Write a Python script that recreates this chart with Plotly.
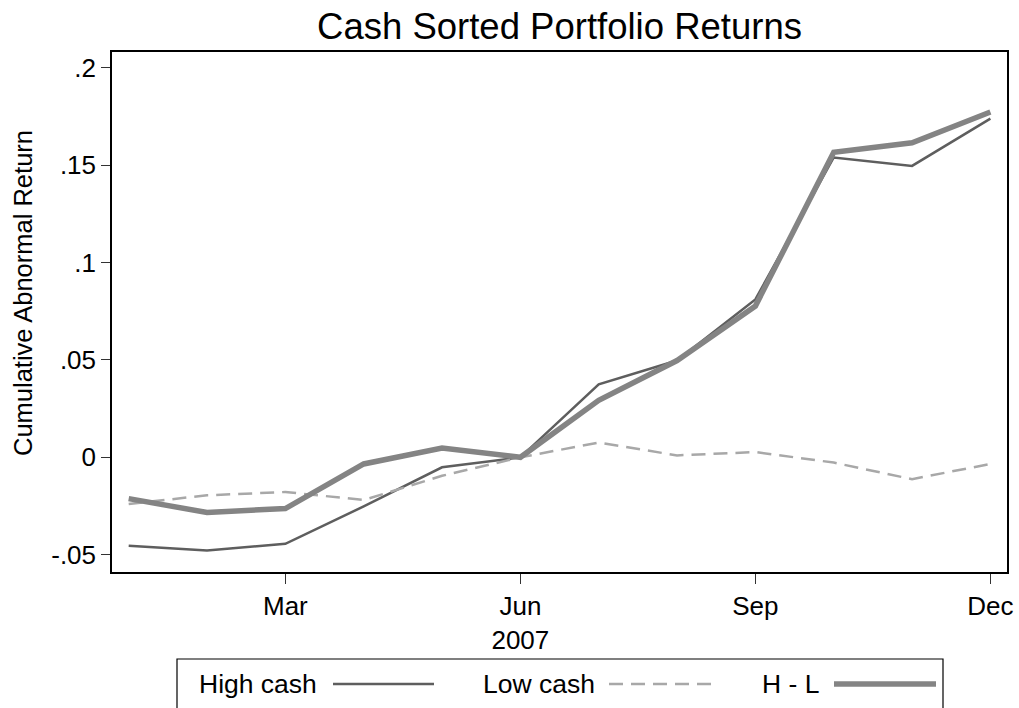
import plotly.graph_objects as go

# ── Data (cumulative abnormal returns, 2007) ─────────────────────────────────
months = [1, 2, 3, 4, 5, 6, 7, 8, 9, 10, 11, 12]
high_cash = [-0.0454, -0.0478, -0.0444, -0.0252, -0.0051, 0.0,
             0.0375, 0.0497, 0.0811, 0.1540, 0.1497, 0.1740]
low_cash = [-0.0240, -0.0195, -0.0178, -0.0219, -0.0095, 0.0,
            0.0076, 0.0010, 0.0027, -0.0027, -0.0112, -0.0034]
h_minus_l = [-0.0212, -0.0283, -0.0263, -0.0034, 0.0048, 0.0,
             0.0293, 0.0497, 0.0777, 0.1567, 0.1616, 0.1774]

x_tickvals = [3, 6, 9, 12]
x_ticktext = ["Mar", "Jun<br>2007", "Sep", "Dec"]
y_tickvals = [-0.05, 0, 0.05, 0.1, 0.15, 0.2]
y_ticktext = ["-.05", "0", ".05", ".1", ".15", ".2"]

FONT = "Liberation Sans, Arial, sans-serif"
COLORS = {"high": "#5e5e5e", "low": "#a8a8a8", "hl": "#848484"}

W, H = 1019, 708
PLOT_L, PLOT_R, PLOT_T, PLOT_B = 112, 1007, 52, 572   # plot box in pixels

fig = go.Figure()
fig.add_trace(go.Scatter(x=months, y=high_cash, mode="lines", name="High cash",
                         line=dict(color=COLORS["high"], width=2.5)))
fig.add_trace(go.Scatter(x=months, y=low_cash, mode="lines", name="Low cash",
                         line=dict(color=COLORS["low"], width=2.5, dash="14px,8px")))
fig.add_trace(go.Scatter(x=months, y=h_minus_l, mode="lines", name="H - L",
                         line=dict(color=COLORS["hl"], width=5.5)))

# ── Stata-style legend (label before key), drawn in paper coords ─────────────
def px_x(p):
    return (p - PLOT_L) / float(PLOT_R - PLOT_L)


def px_y(p):
    return (PLOT_B - p) / float(PLOT_B - PLOT_T)


shapes = [dict(type="rect", xref="paper", yref="paper",
               x0=px_x(177), x1=px_x(943), y0=px_y(730), y1=px_y(659),
               line=dict(color="black", width=1.2), fillcolor="white", layer="below")]
annotations = [dict(text="Cumulative Abnormal Return", xref="paper", yref="paper",
                    x=px_x(23), y=px_y(293), xanchor="center", yanchor="middle",
                    textangle=-90, showarrow=False,
                    font=dict(family=FONT, size=25.5, color="black"))]
legend_items = [
    ("High cash", 319, 333, 434, dict(color=COLORS["high"], width=2.5)),
    ("Low cash", 597, 609, 712, dict(color=COLORS["low"], width=2.5, dash="14px,8px")),
    ("H - L", 821, 834, 936, dict(color=COLORS["hl"], width=5.5)),
]
ly = px_y(684)
for label, text_right, k0, k1, ln in legend_items:
    annotations.append(dict(text=label, xref="paper", yref="paper", x=px_x(text_right), y=ly,
                            xanchor="right", yanchor="middle", showarrow=False,
                            font=dict(family=FONT, size=26.5, color="black")))
    shapes.append(dict(type="line", xref="paper", yref="paper",
                       x0=px_x(k0), x1=px_x(k1), y0=ly, y1=ly, line=ln))

fig.update_layout(
    width=W, height=H,
    margin=dict(l=PLOT_L, r=W - PLOT_R, t=PLOT_T, b=H - PLOT_B, autoexpand=False),
    paper_bgcolor="white", plot_bgcolor="white",
    showlegend=False,
    font=dict(family=FONT, color="black"),
    title=dict(text="Cash Sorted Portfolio Returns", x=559.5 / W, xanchor="center",
               y=1 - 26 / H, yanchor="middle",
               font=dict(family=FONT, size=36.5, color="black")),
    shapes=shapes,
    annotations=annotations,
)
fig.update_xaxes(range=[0.787, 12.212], tickvals=x_tickvals, ticktext=x_ticktext,
                 ticks="outside", ticklen=10, tickwidth=1.2, tickcolor="#333",
                 showline=True, linecolor="black", linewidth=1.5, mirror=True,
                 showgrid=False, zeroline=False, tickfont=dict(size=26),
                 automargin=False, ticklabeloverflow="allow")
fig.update_yaxes(range=[-0.0589, 0.2082], tickvals=y_tickvals, ticktext=y_ticktext,
                 ticks="outside", ticklen=9, tickwidth=1.2, tickcolor="#333",
                 showline=True, linecolor="black", linewidth=1.5, mirror=True,
                 showgrid=False, zeroline=False, tickfont=dict(size=26),
                 automargin=False)

# drop the page's default 8px body margin so the figure fills the window
fig.write_html("out.html", config={"displayModeBar": False},
               post_script="document.body.style.margin = '0';")
